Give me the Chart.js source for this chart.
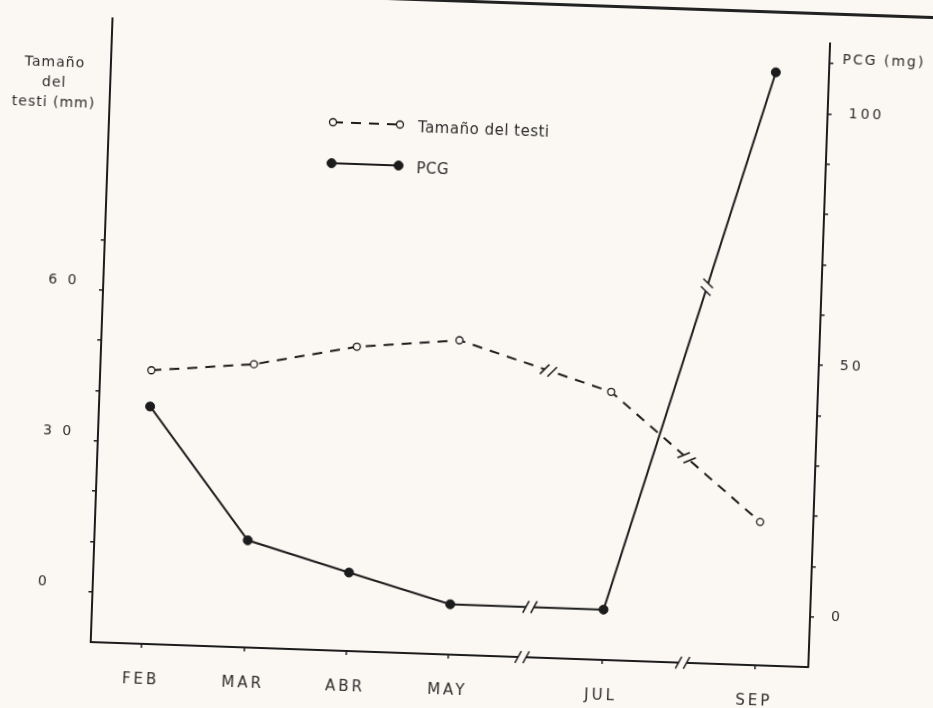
<!DOCTYPE html>
<html>
<head>
<meta charset="utf-8">
<script src="https://cdn.jsdelivr.net/npm/chart.js@4/dist/chart.umd.min.js"></script>
<style>
  html, body { margin: 0; padding: 0; background: #fbf8f4; overflow: hidden; }
  #wrap { width: 933px; height: 708px; transform: rotate(2deg); transform-origin: 50% 50%; }
  canvas { display: block; }
</style>
</head>
<body>
<div id="wrap"><canvas id="c" width="933" height="708"></canvas></div>
<script>
// Months sampled, and their place on a compressed time axis (gaps at JUN and AGO)
const months = ['FEB', 'MAR', 'ABR', 'MAY', 'JUL', 'SEP'];
const monthPos = [0, 1, 2, 3, 4.5, 6];

// Testis size (mm) and PCG (mg) per month
const testiMm = [44.4, 46.3, 50.5, 52.5, 43.3, 18.5];
const pcgMg = [37.2, 11.3, 5.6, 0, 0, 107.9];

// Axis ticks and the ones that carry a label
const leftTickValues = [0, 10, 20, 30, 40, 50, 60, 70];
const leftTickLabels = { 0: '0', 30: '3 0', 60: '6 0' };
const rightTickValues = [0, 10, 20, 30, 40, 50, 60, 70, 80, 90, 100, 110];
const rightTickLabels = { 0: '0', 50: '50', 100: '100' };

// Where each line and the time axis are marked as interrupted
const testiBreaks = [3.88, 5.26];
const pcgBreaks = [3.78, 5.4];
const axisBreaks = [3.72, 5.29];

const BG = '#fbf8f4';
const INK = '#1c1c1c';
const TEXT = '#2c2c2c';
const FONT = "'DejaVu Sans', sans-serif";

function drawBreak(ctx, px, py, ang) {
  ctx.save();
  ctx.translate(px, py);
  ctx.rotate(ang);
  ctx.strokeStyle = BG;
  ctx.lineWidth = 6;
  ctx.beginPath(); ctx.moveTo(-4, 0); ctx.lineTo(4, 0); ctx.stroke();
  ctx.strokeStyle = INK;
  ctx.lineWidth = 1.5;
  [-4, 4].forEach(o => {
    ctx.beginPath(); ctx.moveTo(o - 3, 6); ctx.lineTo(o + 3, -6); ctx.stroke();
  });
  ctx.restore();
}

const paperPlugin = {
  id: 'paper',
  beforeDraw(chart) {
    const { ctx, width, height } = chart;
    ctx.save();
    ctx.fillStyle = BG;
    ctx.fillRect(0, 0, width, height);
    ctx.strokeStyle = '#222';
    ctx.lineWidth = 4;
    ctx.beginPath(); ctx.moveTo(0, 1); ctx.lineTo(width, 1); ctx.stroke();
    ctx.restore();
    ctx.letterSpacing = '3px';
  },
  beforeDatasetsDraw(chart) {
    chart.ctx.letterSpacing = '0px';
  }
};

const breakPlugin = {
  id: 'breaks',
  afterDatasetsDraw(chart) {
    const { ctx, scales: { x }, chartArea } = chart;
    chart.data.datasets.forEach((ds, di) => {
      const pts = chart.getDatasetMeta(di).data;
      ds.breaks.forEach(bx => {
        const i = monthPos.findIndex((p, k) => k < monthPos.length - 1 && p <= bx && bx <= monthPos[k + 1]);
        const a = pts[i], b = pts[i + 1];
        const t = (bx - monthPos[i]) / (monthPos[i + 1] - monthPos[i]);
        const px = a.x + t * (b.x - a.x), py = a.y + t * (b.y - a.y);
        drawBreak(ctx, px, py, Math.atan2(b.y - a.y, b.x - a.x));
      });
    });
    axisBreaks.forEach(bx => drawBreak(ctx, x.getPixelForValue(bx), chartArea.bottom, 0));
  }
};

const textPlugin = {
  id: 'texts',
  afterDraw(chart) {
    const { ctx, chartArea } = chart;
    ctx.save();
    ctx.fillStyle = TEXT;
    ctx.textBaseline = 'middle';

    // left axis title
    ctx.font = `14px ${FONT}`;
    ctx.letterSpacing = '1px';
    ctx.textAlign = 'center';
    ['Tamaño', 'del', 'testi (mm)'].forEach((s, i) => ctx.fillText(s, 45, 77 + i * 20));

    // right axis title
    ctx.letterSpacing = '2px';
    ctx.textAlign = 'left';
    ctx.fillText('PCG (mg)', chartArea.right + 13, 47);

    // legend
    const lx0 = chartArea.left + 224, lx1 = chartArea.left + 291, tx = chartArea.left + 309;
    const rows = [chartArea.top + 96, chartArea.top + 137];
    chart.data.datasets.forEach((ds, di) => {
      const y = rows[di];
      ctx.save();
      ctx.strokeStyle = ds.borderColor;
      ctx.lineWidth = ds.borderWidth;
      ctx.setLineDash(ds.borderDash || []);
      ctx.beginPath(); ctx.moveTo(lx0, y); ctx.lineTo(lx1, y); ctx.stroke();
      ctx.setLineDash([]);
      [lx0, lx1].forEach(px => {
        ctx.beginPath();
        ctx.arc(px, y, ds.pointRadius, 0, Math.PI * 2);
        ctx.fillStyle = ds.pointBackgroundColor;
        ctx.fill();
        ctx.lineWidth = ds.pointBorderWidth;
        ctx.strokeStyle = ds.pointBorderColor;
        ctx.stroke();
      });
      ctx.restore();
      ctx.font = `15px ${FONT}`;
      ctx.letterSpacing = '0.5px';
      ctx.fillStyle = TEXT;
      ctx.fillText(ds.label, tx, y + 3);
    });
    ctx.restore();
  }
};

const axisLine = { display: true, color: INK, width: 2 };
const nubs = { drawOnChartArea: false, drawTicks: true, tickLength: 4, color: INK, lineWidth: 1.5 };

new Chart(document.getElementById('c'), {
  type: 'line',
  data: {
    datasets: [
      {
        label: 'Tamaño del testi',
        data: monthPos.map((p, i) => ({ x: p, y: testiMm[i] })),
        breaks: testiBreaks,
        yAxisID: 'y',
        borderColor: INK,
        borderWidth: 2,
        borderDash: [10, 8],
        pointRadius: 3.5,
        pointBackgroundColor: BG,
        pointBorderColor: INK,
        pointBorderWidth: 1.3,
        tension: 0
      },
      {
        label: 'PCG',
        data: monthPos.map((p, i) => ({ x: p, y: pcgMg[i] })),
        breaks: pcgBreaks,
        yAxisID: 'y1',
        borderColor: INK,
        borderWidth: 2,
        pointRadius: 4.5,
        pointBackgroundColor: INK,
        pointBorderColor: INK,
        pointBorderWidth: 1,
        tension: 0
      }
    ]
  },
  options: {
    responsive: false,
    animation: false,
    devicePixelRatio: 1,
    layout: { padding: { left: 46, top: 31, right: 0, bottom: 0 } },
    plugins: { legend: { display: false }, tooltip: { enabled: false } },
    scales: {
      x: {
        type: 'linear',
        min: -0.5,
        max: 6.52,
        afterBuildTicks: s => { s.ticks = monthPos.map(v => ({ value: v })); },
        afterFit: s => { s.height = 53; },
        ticks: {
          callback: v => { const i = monthPos.indexOf(v); return i >= 0 ? months[i] : ''; },
          autoSkip: false, maxRotation: 0, minRotation: 0,
          padding: 23,
          color: TEXT,
          font: { family: FONT, size: 15 }
        },
        grid: nubs,
        border: axisLine
      },
      y: {
        position: 'left',
        min: -10,
        max: 114,
        afterBuildTicks: s => { s.ticks = leftTickValues.map(v => ({ value: v })); },
        afterFit: s => { s.width = 55; },
        ticks: {
          callback: v => leftTickLabels[v] || '',
          crossAlign: 'far',
          labelOffset: -8,
          autoSkip: false,
          color: TEXT,
          font: { family: FONT, size: 14 }
        },
        grid: nubs,
        border: axisLine
      },
      y1: {
        position: 'right',
        min: -10,
        max: 114,
        afterBuildTicks: s => { s.ticks = rightTickValues.map(v => ({ value: v })); },
        afterFit: s => { s.width = 114; },
        ticks: {
          callback: v => rightTickLabels[v] || '',
          padding: 17,
          autoSkip: false,
          color: TEXT,
          font: { family: FONT, size: 14 }
        },
        grid: nubs,
        border: axisLine
      }
    }
  },
  plugins: [paperPlugin, breakPlugin, textPlugin]
});
</script>
</body>
</html>
